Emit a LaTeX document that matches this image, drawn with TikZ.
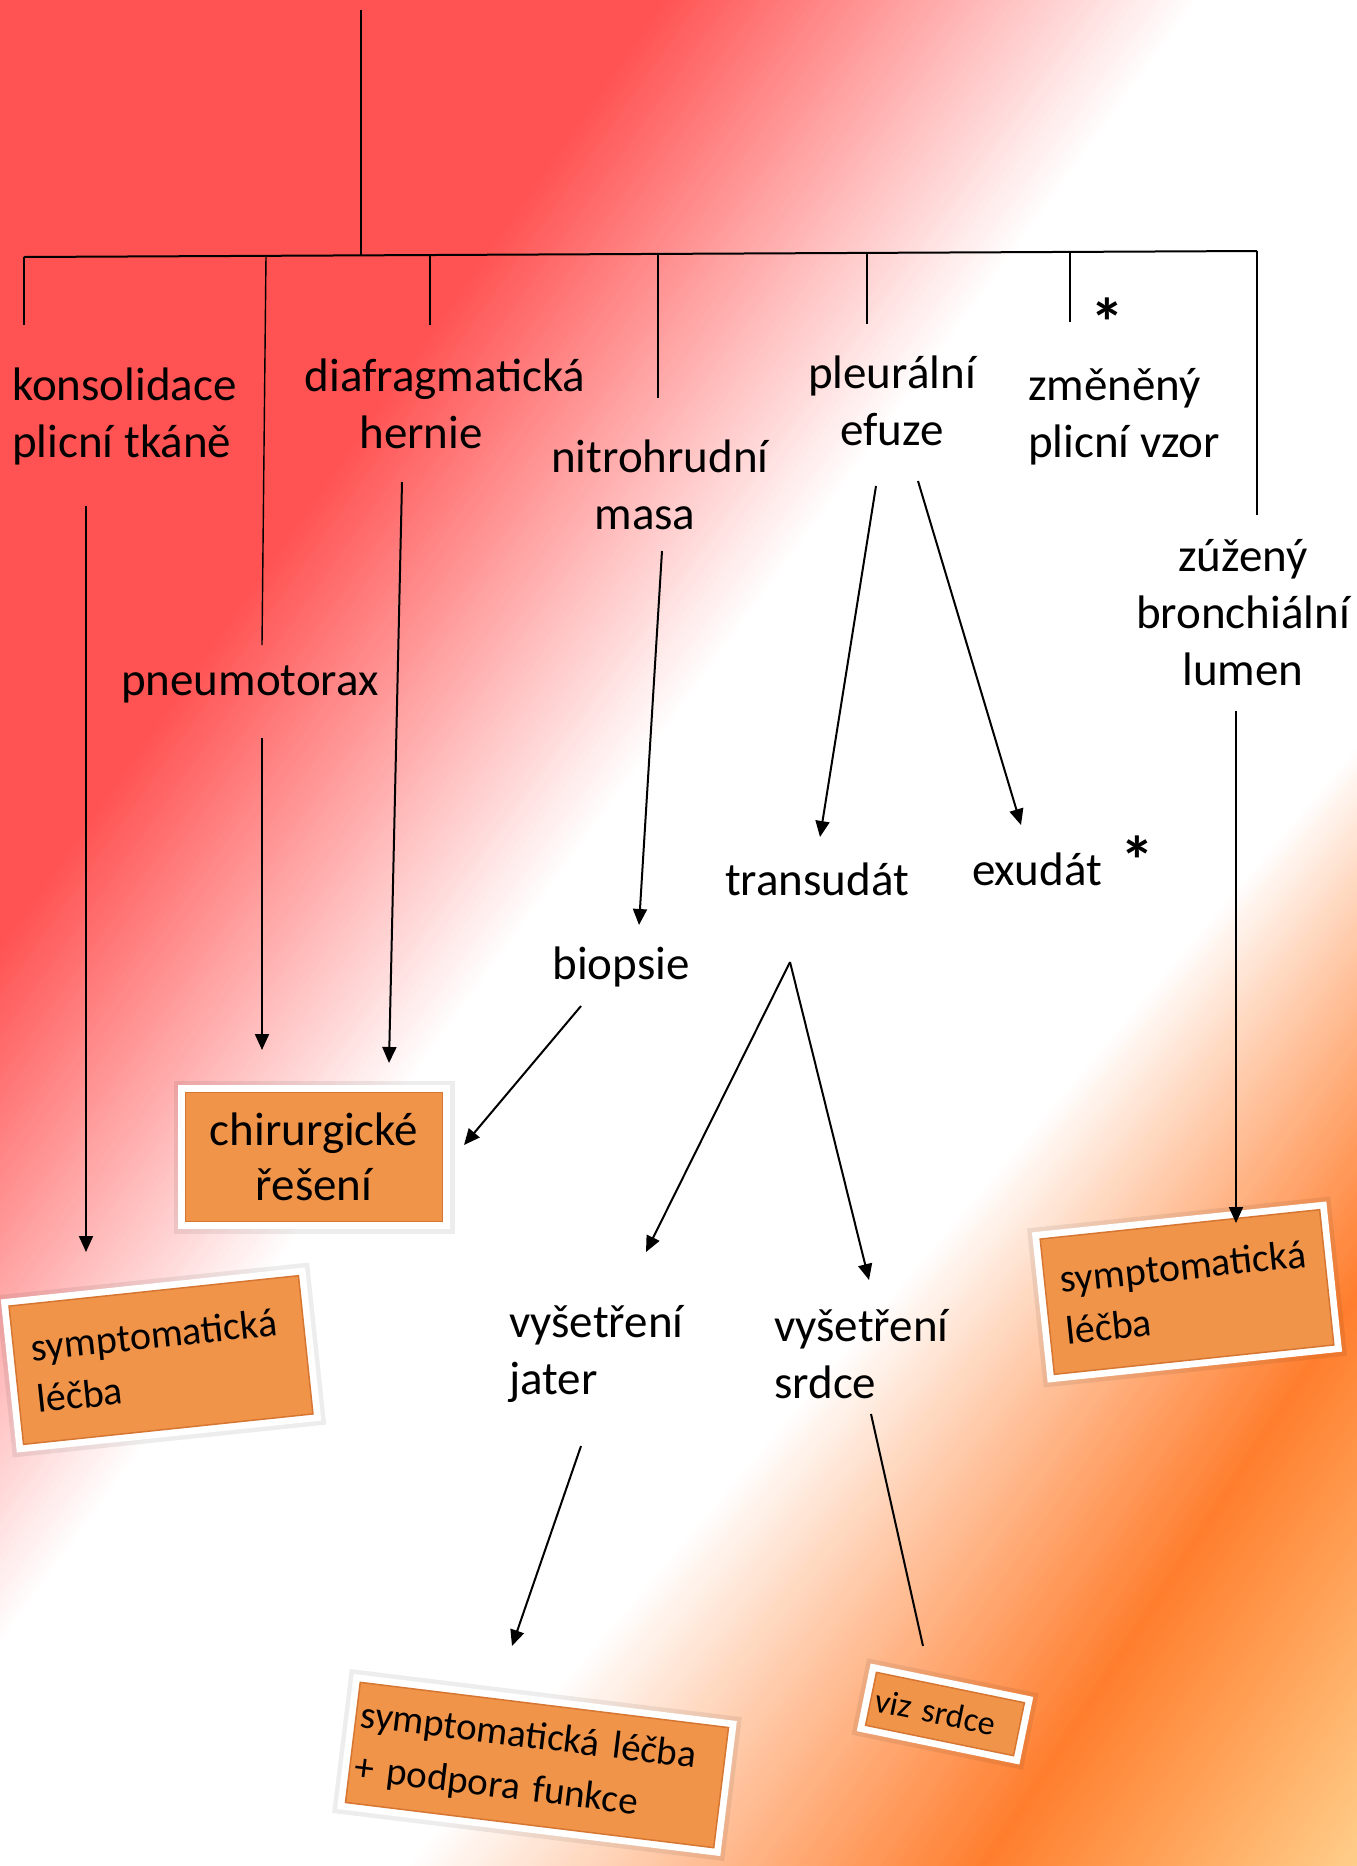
\documentclass[tikz,border=0pt]{standalone}
\usepackage{fontspec}
\setmainfont{Carlito}
\usetikzlibrary{arrows.meta}
\definecolor{bgred}{RGB}{255,82,82}
\definecolor{bgorange}{RGB}{255,126,46}
\definecolor{bgpeach}{RGB}{255,216,150}
\definecolor{boxorange}{RGB}{240,148,74}
\definecolor{boxdark}{RGB}{214,118,50}
% band segment: k_a, p_a, k_b, p_b, colour a, colour b, steps
\newcommand\bgseg[7]{%
  \pgfmathtruncatemacro\nmax{#7-1}%
  \pgfmathsetmacro\dk{(#3-#1)/#7}%
  \pgfmathsetmacro\dp{(#4-#2)/#7}%
  \foreach \i in {0,...,\nmax}{%
    \pgfmathsetmacro\ka{#1+\dk*\i}%
    \pgfmathsetmacro\pa{#2+\dp*\i}%
    \pgfmathsetmacro\kb{#1+\dk*(\i+1)}%
    \pgfmathsetmacro\pb{#2+\dp*(\i+1)+1.5}%
    \pgfmathtruncatemacro\pc{round(100/#7*(\i+0.5))}%
    \fill[fill={#6!\pc!#5}] ({\pa+100*\ka},-100) -- ({\pb+100*\kb},-100) -- ({\pb-2000*\kb},2000) -- ({\pa-2000*\ka},2000) -- cycle;
  }%
}
\begin{document}
\begin{tikzpicture}[x=1pt,y=-1pt,
  lbl/.style={font=\fontsize{47}{57}\selectfont, inner sep=0pt},
  starlbl/.style={font=\fontsize{68}{68}\selectfont\bfseries, inner sep=0pt},
  boxtxt/.style={font=\fontsize{40}{52}\selectfont},
  tree/.style={line width=1.4pt},
  barline/.style={line width=2pt},
  arr/.style={line width=2pt, -{Triangle[length=16pt,width=14pt]}},
  plainline/.style={line width=2pt},
  obox/.style={fill=boxorange, draw=boxdark, line width=1.5pt,
     preaction={draw=black, draw opacity=0.07, line width=24pt},
     preaction={draw=white, line width=15pt}}
]
\useasboundingbox (0,0) rectangle (1357,1866);
% background gradient
\begin{scope}
\clip (0,0) rectangle (1357,1866);
\fill[bgred] (0,0) rectangle (1357,1866);
\bgseg{0.70}{660}{0.73}{1200}{bgred}{white}{135}
\fill[white] ({1200+100*0.73},-100) -- ({1991.5+100*0.85},-100) -- ({1991.5-2000*0.85},2000) -- ({1200-2000*0.73},2000) -- cycle;
\bgseg{0.85}{1990}{0.65}{2200}{white}{bgorange}{110}
\bgseg{0.65}{2200}{0.65}{2620}{bgorange}{bgpeach}{100}
\end{scope}

% labels
\node[lbl, anchor=west, align=left] (kons) at (12,416) {konsolidace\\plicní tkáně};
\node[lbl, align=center] (diaf) at (445,404) {diafragmatická\\hernie\hspace*{48pt}};
\node[lbl, align=center] (nitro) at (660,485) {nitrohrudní\\masa\hspace*{30pt}};
\node[lbl, align=center] (pleur) at (892,401) {pleurální\\efuze};
\node[starlbl] (star1) at (1107,322) {*};
\node[lbl, anchor=west, align=left] (zmen) at (1028,417) {změněný\\plicní vzor};
\node[lbl, align=center] (zuz) at (1243,613) {zúžený\\bronchiální\\lumen};
\node[lbl] (pneu) at (250,684) {pneumotorax};
\node[lbl] (trans) at (817,879) {transudát};
\node[lbl] (exud) at (1037,869) {exudát};
\node[starlbl] (star2) at (1137,860) {*};
\node[lbl] (biop) at (621,967) {biopsie};
\node[lbl, anchor=west, align=left] (jater) at (509,1354) {vyšetření\\jater};
\node[lbl, anchor=west, align=left] (srdce) at (774,1354) {vyšetření\\srdce};

% boxes
\node[obox, font=\fontsize{47}{55}\selectfont, align=center, text width=247pt, inner xsep=5pt, minimum height=129pt] (chir) at (314,1157) {chirurgické\\řešení};
\node[obox, boxtxt, rotate=6, align=left, text width=255pt, inner xsep=18pt, minimum height=139pt] (symL) at (161,1360) {symptomatická\\léčba};
\node[obox, boxtxt, rotate=6, align=left, text width=249pt, inner xsep=16pt, minimum height=136pt] (symR) at (1187,1292) {symptomatická\\léčba};
\node[obox, font=\fontsize{39}{53}\selectfont, rotate=-7, align=left, text width=361pt, inner xsep=5pt, minimum height=121pt] (symB) at (537,1765) {symptomatická léčba\\+ podpora funkce};
\node[obox, font=\fontsize{34}{40}\selectfont, rotate=-11.6, align=left, text width=141pt, inner xsep=5pt, minimum height=54pt] (viz) at (945,1714) {viz srdce};

% tree
\coordinate (top0) at (361,10);
\coordinate (top1) at (361,255.4);
\coordinate (barL) at (24,257);
\coordinate (barR) at (1257,251);
\draw[tree] (top0) -- (top1);
\draw[barline] (barL) -- (barR);
\coordinate (d1a) at (24,257);   \coordinate (d1b) at (24,325);
\coordinate (d2a) at (266,256);  \coordinate (d2b) at (262,645);
\coordinate (d3a) at (430,255);  \coordinate (d3b) at (430,325);
\coordinate (d4a) at (658,254);  \coordinate (d4b) at (658,398);
\coordinate (d5a) at (867,253);  \coordinate (d5b) at (867,324);
\coordinate (d6a) at (1070,252); \coordinate (d6b) at (1070,322);
\coordinate (d7a) at (1257,251); \coordinate (d7b) at (1257,515);
\foreach \k in {1,...,7}{\draw[tree] (d\k a) -- (d\k b);}

% arrows
\coordinate (a1s) at (86,506);   \coordinate (a1e) at (86,1252);
\coordinate (a2s) at (262,738);  \coordinate (a2e) at (262,1050);
\coordinate (a3s) at (402,482);  \coordinate (a3e) at (389,1063);
\coordinate (a4s) at (662,551);  \coordinate (a4e) at (639,925);
\coordinate (a5s) at (581,1006); \coordinate (a5e) at (464,1145);
\coordinate (a6s) at (876,486);  \coordinate (a6e) at (820,837);
\coordinate (a7s) at (918,481);  \coordinate (a7e) at (1021,825);
\coordinate (a8s) at (790,962);  \coordinate (a8e) at (646,1252);
\coordinate (a9e) at (869,1280);
\coordinate (a10s) at (581,1446); \coordinate (a10e) at (512,1646);
\coordinate (a11s) at (871,1414); \coordinate (a11e) at (923,1646);
\coordinate (a12s) at (1236,711); \coordinate (a12e) at (1236,1223);
\draw[arr] (a1s) -- (a1e);
\draw[arr] (a2s) -- (a2e);
\draw[arr] (a3s) -- (a3e);
\draw[arr] (a4s) -- (a4e);
\draw[arr] (a5s) -- (a5e);
\draw[arr] (a6s) -- (a6e);
\draw[arr] (a7s) -- (a7e);
\draw[arr] (a8s) -- (a8e);
\draw[arr] (a8s) -- (a9e);
\draw[arr] (a10s) -- (a10e);
\draw[plainline] (a11s) -- (a11e);
\draw[arr] (a12s) -- (a12e);
\end{tikzpicture}
\end{document}
